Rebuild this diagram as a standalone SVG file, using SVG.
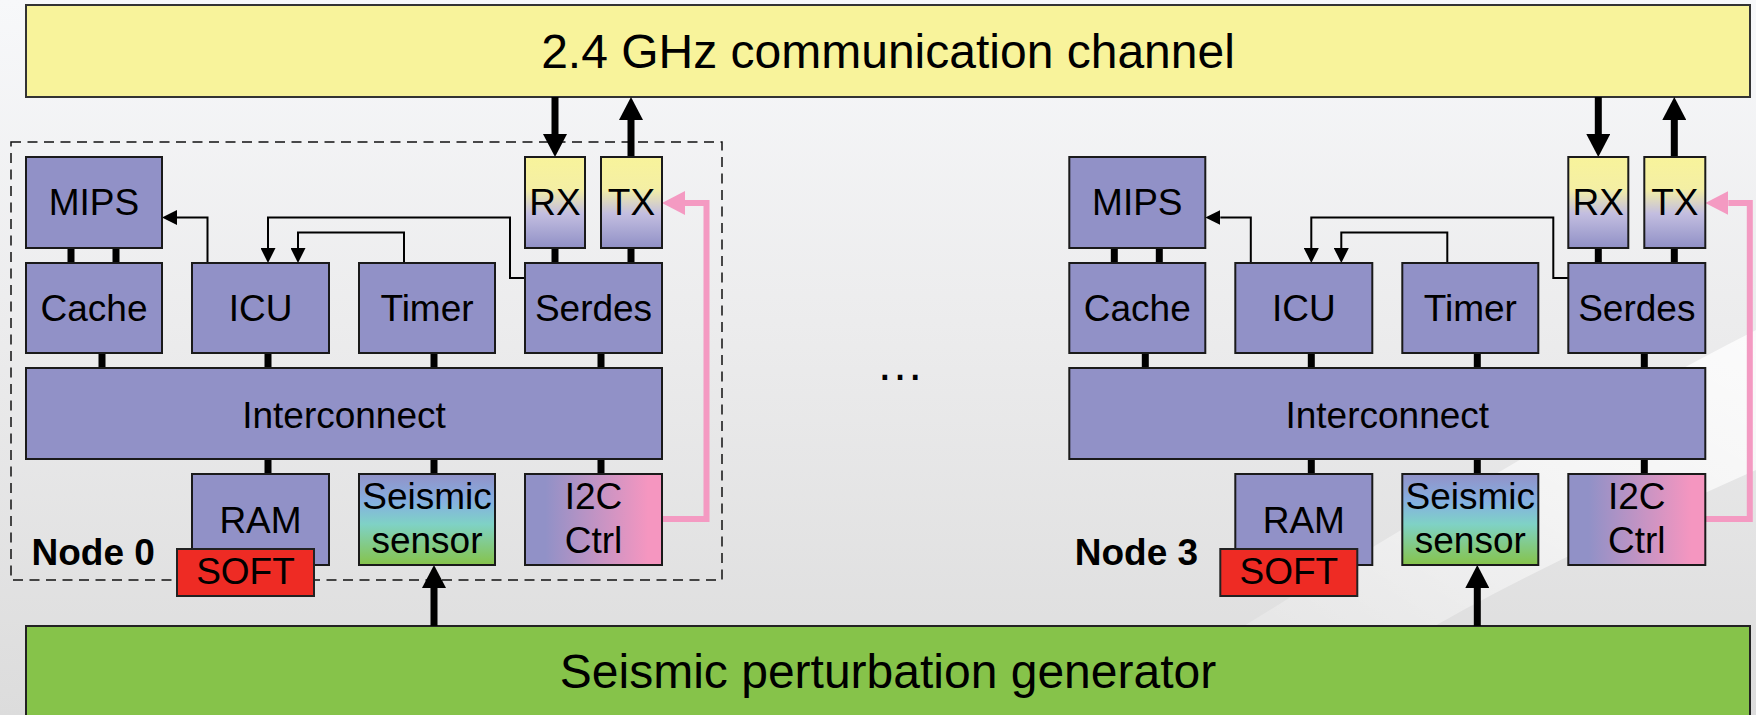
<svg xmlns="http://www.w3.org/2000/svg" width="1756" height="715" viewBox="0 0 1756 715">
<defs>
<linearGradient id="bg" x1="0" y1="0" x2="0" y2="1">
<stop offset="0" stop-color="#f7f8fa"/>
<stop offset="0.45" stop-color="#ececed"/>
<stop offset="1" stop-color="#dcdcdc"/>
</linearGradient>
<linearGradient id="swoosh" x1="0" y1="1" x2="1" y2="0">
<stop offset="0" stop-color="#ffffff" stop-opacity="0"/>
<stop offset="0.6" stop-color="#ffffff" stop-opacity="0.55"/>
<stop offset="1" stop-color="#ffffff" stop-opacity="0.8"/>
</linearGradient>
<linearGradient id="rxtx" x1="0" y1="0" x2="0" y2="1">
<stop offset="0" stop-color="#f8f39b"/>
<stop offset="0.35" stop-color="#f4efa4"/>
<stop offset="0.62" stop-color="#c3bee0"/>
<stop offset="1" stop-color="#9090c6"/>
</linearGradient>
<linearGradient id="sensor" x1="0" y1="0" x2="0" y2="1">
<stop offset="0" stop-color="#9191c8"/>
<stop offset="0.3" stop-color="#85b0e0"/>
<stop offset="0.55" stop-color="#7fd2c6"/>
<stop offset="1" stop-color="#86c34a"/>
</linearGradient>
<linearGradient id="i2c" x1="0" y1="0" x2="1" y2="0">
<stop offset="0.15" stop-color="#9191c7"/>
<stop offset="0.9" stop-color="#f596c0"/>
</linearGradient>
<marker id="thin" markerUnits="userSpaceOnUse" markerWidth="15" markerHeight="15" refX="0" refY="7.5" orient="auto">
<path d="M0,0 L15,7.5 L0,15 z" fill="#000"/>
</marker>
<marker id="thick" markerUnits="userSpaceOnUse" markerWidth="23" markerHeight="24" refX="0" refY="12" orient="auto">
<path d="M0,0 L23,12 L0,24 z" fill="#000"/>
</marker>
<marker id="pink" markerUnits="userSpaceOnUse" markerWidth="23" markerHeight="24" refX="0" refY="12" orient="auto">
<path d="M0,0 L23,12 L0,24 z" fill="#f49ac2"/>
</marker>
</defs>
<style>
text{font-family:"Liberation Sans",Arial,sans-serif;fill:#000;text-anchor:middle}
.lbl{font-size:37px}
.big{font-size:48px}
.nodeid{font-size:37px;font-weight:bold;text-anchor:start}
.box{fill:#9191c7;stroke:#1a1a1a;stroke-width:2}
.bar{stroke:#000;stroke-width:7}
.thin{fill:none;stroke:#000;stroke-width:2}
.thk{fill:none;stroke:#000;stroke-width:7}
.pk{fill:none;stroke:#f49ac2;stroke-width:6}
</style>

<rect x="0" y="0" width="1756" height="715" fill="url(#bg)"/>
<path d="M1100,715 C1350,560 1560,430 1756,330 L1756,470 C1600,540 1420,620 1300,715 z" fill="url(#swoosh)"/>

<g id="channel">
<rect x="26" y="5" width="1724" height="92" fill="#f8f39b" stroke="#333" stroke-width="2"/>
<text class="big" x="888" y="68">2.4 GHz communication channel</text>
</g>
<g id="generator">
<rect x="26" y="626" width="1724" height="100" fill="#86c34a" stroke="#222" stroke-width="2"/>
<text class="big" x="888" y="688">Seismic perturbation generator</text>
</g>

<g id="node0-frame">
<rect x="11" y="142" width="711" height="438" fill="none" stroke="#111" stroke-width="1.5" stroke-dasharray="10,6.5"/>
</g>

<g id="connectors">
<line class="bar" x1="71" y1="248" x2="71" y2="263"/>
<line class="bar" x1="116" y1="248" x2="116" y2="263"/>
<line class="bar" x1="555" y1="248" x2="555" y2="263"/>
<line class="bar" x1="631" y1="248" x2="631" y2="263"/>
<line class="bar" x1="102" y1="353" x2="102" y2="368"/>
<line class="bar" x1="268" y1="353" x2="268" y2="368"/>
<line class="bar" x1="434" y1="353" x2="434" y2="368"/>
<line class="bar" x1="601" y1="353" x2="601" y2="368"/>
<line class="bar" x1="268" y1="459" x2="268" y2="474"/>
<line class="bar" x1="434" y1="459" x2="434" y2="474"/>
<line class="bar" x1="601" y1="459" x2="601" y2="474"/>
<path class="thin" d="M207.5,263 V217.5 H177" marker-end="url(#thin)"/>
<path class="thin" d="M525,278 H510 V217.5 H268 V248" marker-end="url(#thin)"/>
<path class="thin" d="M404,263 V232.5 H298 V248" marker-end="url(#thin)"/>
<path class="thk" d="M555,97 V134" marker-end="url(#thick)"/>
<path class="thk" d="M631,157 V120" marker-end="url(#thick)"/>
<path class="thk" d="M434,626 V588" marker-end="url(#thick)"/>
<path class="pk" d="M662,519 H706.5 V203 H685" marker-end="url(#pink)"/>
<g transform="translate(1043.3,0)">
<line class="bar" x1="71" y1="248" x2="71" y2="263"/>
<line class="bar" x1="116" y1="248" x2="116" y2="263"/>
<line class="bar" x1="555" y1="248" x2="555" y2="263"/>
<line class="bar" x1="631" y1="248" x2="631" y2="263"/>
<line class="bar" x1="102" y1="353" x2="102" y2="368"/>
<line class="bar" x1="268" y1="353" x2="268" y2="368"/>
<line class="bar" x1="434" y1="353" x2="434" y2="368"/>
<line class="bar" x1="601" y1="353" x2="601" y2="368"/>
<line class="bar" x1="268" y1="459" x2="268" y2="474"/>
<line class="bar" x1="434" y1="459" x2="434" y2="474"/>
<line class="bar" x1="601" y1="459" x2="601" y2="474"/>
<path class="thin" d="M207.5,263 V217.5 H177" marker-end="url(#thin)"/>
<path class="thin" d="M525,278 H510 V217.5 H268 V248" marker-end="url(#thin)"/>
<path class="thin" d="M404,263 V232.5 H298 V248" marker-end="url(#thin)"/>
<path class="thk" d="M555,97 V134" marker-end="url(#thick)"/>
<path class="thk" d="M631,157 V120" marker-end="url(#thick)"/>
<path class="thk" d="M434,626 V588" marker-end="url(#thick)"/>
<path class="pk" d="M662,519 H706.5 V203 H685" marker-end="url(#pink)"/>
</g>
</g>

<g id="node0">
<g id="n0-mips"><rect class="box" x="26" y="157" width="136" height="91"/><text class="lbl" x="94" y="215">MIPS</text></g>
<g id="n0-rx"><rect x="525" y="157" width="60" height="91" fill="url(#rxtx)" stroke="#1a1a1a" stroke-width="2"/><text class="lbl" x="555" y="215">RX</text></g>
<g id="n0-tx"><rect x="601" y="157" width="61" height="91" fill="url(#rxtx)" stroke="#1a1a1a" stroke-width="2"/><text class="lbl" x="631.5" y="215">TX</text></g>
<g id="n0-cache"><rect class="box" x="26" y="263" width="136" height="90"/><text class="lbl" x="94" y="321">Cache</text></g>
<g id="n0-icu"><rect class="box" x="192" y="263" width="137" height="90"/><text class="lbl" x="260.5" y="321">ICU</text></g>
<g id="n0-timer"><rect class="box" x="359" y="263" width="136" height="90"/><text class="lbl" x="427" y="321">Timer</text></g>
<g id="n0-serdes"><rect class="box" x="525" y="263" width="137" height="90"/><text class="lbl" x="593.5" y="321">Serdes</text></g>
<g id="n0-interconnect"><rect class="box" x="26" y="368" width="636" height="91"/><text class="lbl" x="344" y="428">Interconnect</text></g>
<g id="n0-ram"><rect class="box" x="192" y="474" width="137" height="91"/><text class="lbl" x="260.5" y="533">RAM</text></g>
<g id="n0-sensor"><rect x="359" y="474" width="136" height="91" fill="url(#sensor)" stroke="#1a1a1a" stroke-width="2"/><text class="lbl" x="427" y="509">Seismic</text><text class="lbl" x="427" y="553">sensor</text></g>
<g id="n0-i2c"><rect x="525" y="474" width="137" height="91" fill="url(#i2c)" stroke="#1a1a1a" stroke-width="2"/><text class="lbl" x="593.5" y="509">I2C</text><text class="lbl" x="593.5" y="553">Ctrl</text></g>
<g id="n0-soft"><rect x="177" y="549" width="137" height="47" fill="#ee2b24" stroke="#222" stroke-width="2"/><text class="lbl" x="245.5" y="584">SOFT</text></g>
<g id="n0-label"><text class="nodeid" x="31.5" y="565">Node 0</text></g>
</g>

<g id="node3" transform="translate(1043.3,0)">
<g id="n3-mips"><rect class="box" x="26" y="157" width="136" height="91"/><text class="lbl" x="94" y="215">MIPS</text></g>
<g id="n3-rx"><rect x="525" y="157" width="60" height="91" fill="url(#rxtx)" stroke="#1a1a1a" stroke-width="2"/><text class="lbl" x="555" y="215">RX</text></g>
<g id="n3-tx"><rect x="601" y="157" width="61" height="91" fill="url(#rxtx)" stroke="#1a1a1a" stroke-width="2"/><text class="lbl" x="631.5" y="215">TX</text></g>
<g id="n3-cache"><rect class="box" x="26" y="263" width="136" height="90"/><text class="lbl" x="94" y="321">Cache</text></g>
<g id="n3-icu"><rect class="box" x="192" y="263" width="137" height="90"/><text class="lbl" x="260.5" y="321">ICU</text></g>
<g id="n3-timer"><rect class="box" x="359" y="263" width="136" height="90"/><text class="lbl" x="427" y="321">Timer</text></g>
<g id="n3-serdes"><rect class="box" x="525" y="263" width="137" height="90"/><text class="lbl" x="593.5" y="321">Serdes</text></g>
<g id="n3-interconnect"><rect class="box" x="26" y="368" width="636" height="91"/><text class="lbl" x="344" y="428">Interconnect</text></g>
<g id="n3-ram"><rect class="box" x="192" y="474" width="137" height="91"/><text class="lbl" x="260.5" y="533">RAM</text></g>
<g id="n3-sensor"><rect x="359" y="474" width="136" height="91" fill="url(#sensor)" stroke="#1a1a1a" stroke-width="2"/><text class="lbl" x="427" y="509">Seismic</text><text class="lbl" x="427" y="553">sensor</text></g>
<g id="n3-i2c"><rect x="525" y="474" width="137" height="91" fill="url(#i2c)" stroke="#1a1a1a" stroke-width="2"/><text class="lbl" x="593.5" y="509">I2C</text><text class="lbl" x="593.5" y="553">Ctrl</text></g>
<g id="n3-soft"><rect x="177" y="549" width="137" height="47" fill="#ee2b24" stroke="#222" stroke-width="2"/><text class="lbl" x="245.5" y="584">SOFT</text></g>
<g id="n3-label"><text class="nodeid" x="31.5" y="565">Node 3</text></g>
</g>

<g id="ellipsis"><text class="big" x="900" y="380">…</text></g>
</svg>
